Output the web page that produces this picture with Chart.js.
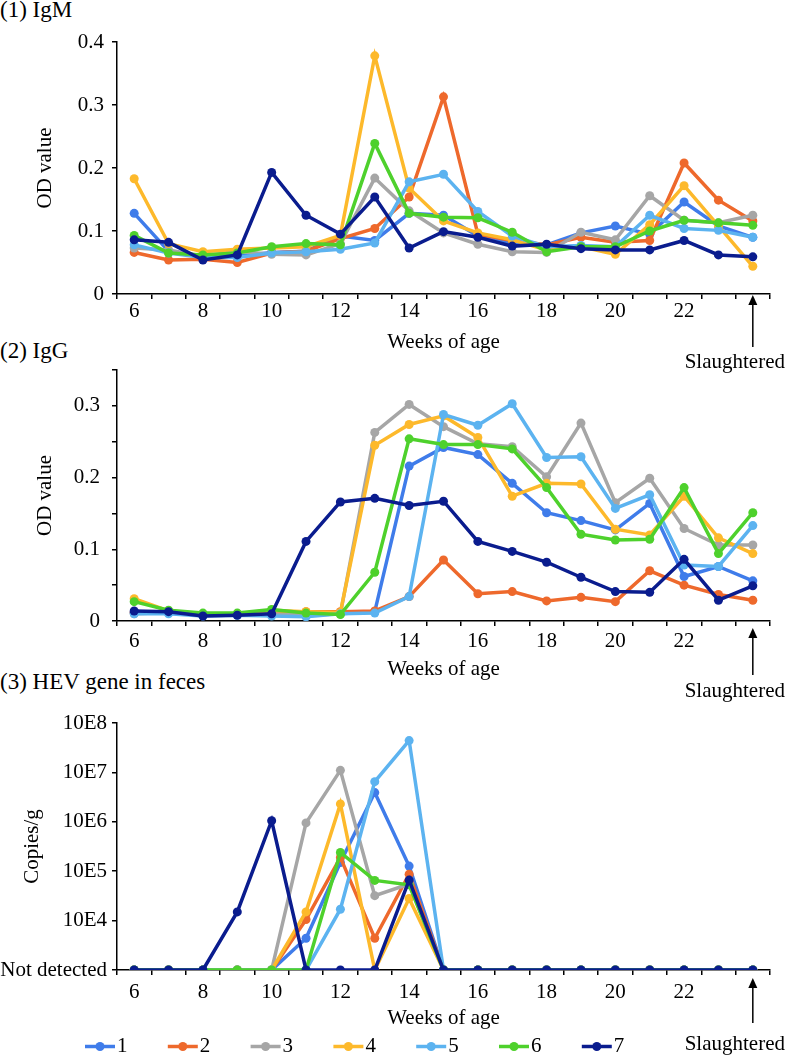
<!DOCTYPE html>
<html>
<head>
<meta charset="utf-8">
<script src="https://cdn.jsdelivr.net/npm/chart.js@4.4.0/dist/chart.umd.min.js"></script>
<style>
html, body { margin: 0; padding: 0; background: #fff; }
#wrap { position: relative; width: 787px; height: 1056px; overflow: hidden; font-family: 'Liberation Serif', 'Times New Roman', serif; }
.ptitle { position: absolute; left: 0; font-size: 23px; line-height: 26px; color: #000; white-space: nowrap; }
canvas { position: absolute; left: 0; }
</style>
</head>
<body>
<div id="wrap">
  <div class="ptitle" style="top:-3px">(1) IgM</div>
  <div class="ptitle" style="top:338px">(2) IgG</div>
  <div class="ptitle" style="top:669px">(3) HEV gene in feces</div>
  <canvas id="c1" width="787" height="385" style="top:0px"></canvas>
  <canvas id="c2" width="787" height="370" style="top:340px"></canvas>
  <canvas id="c3" width="787" height="366" style="top:690px"></canvas>
</div>
<script>
// ---------- data ----------
const weeks = [6, 7, 8, 9, 10, 11, 12, 13, 14, 15, 16, 17, 18, 19, 20, 21, 22, 23, 24];
const weekTickLabels = ['6', '', '8', '', '10', '', '12', '', '14', '', '16', '', '18', '', '20', '', '22', '', ''];
const seriesNames = ['1', '2', '3', '4', '5', '6', '7'];
const seriesColors = ['#3F7CEA', '#EE692C', '#A6A6A6', '#FDB92B', '#5CB3F0', '#4ED12C', '#0A1C8E'];

// (1) IgM OD values
const igm1 = [0.128, 0.068, 0.060, 0.060, 0.066, 0.068, 0.092, 0.085, 0.128, 0.125, 0.092, 0.080, 0.078, 0.097, 0.108, 0.095, 0.146, 0.108, 0.090];
const igm2 = [0.066, 0.054, 0.055, 0.050, 0.065, 0.068, 0.088, 0.104, 0.154, 0.313, 0.095, 0.085, 0.078, 0.090, 0.082, 0.085, 0.208, 0.149, 0.116];
const igm3 = [0.073, 0.070, 0.060, 0.068, 0.063, 0.062, 0.080, 0.184, 0.132, 0.097, 0.079, 0.067, 0.066, 0.098, 0.086, 0.156, 0.117, 0.113, 0.125];
const igm4 = [0.183, 0.080, 0.067, 0.071, 0.073, 0.075, 0.093, 0.378, 0.168, 0.116, 0.097, 0.086, 0.070, 0.075, 0.063, 0.110, 0.172, 0.108, 0.044];
const igm5 = [0.078, 0.065, 0.058, 0.058, 0.065, 0.067, 0.071, 0.081, 0.178, 0.190, 0.131, 0.092, 0.075, 0.077, 0.075, 0.125, 0.104, 0.101, 0.090];
const igm6 = [0.093, 0.065, 0.062, 0.065, 0.075, 0.080, 0.078, 0.239, 0.128, 0.122, 0.121, 0.098, 0.067, 0.075, 0.075, 0.100, 0.117, 0.113, 0.109];
const igm7 = [0.086, 0.082, 0.054, 0.062, 0.193, 0.125, 0.095, 0.154, 0.073, 0.099, 0.090, 0.076, 0.079, 0.072, 0.070, 0.070, 0.085, 0.062, 0.059];

// (2) IgG OD values
const igg1 = [0.012, 0.012, 0.008, 0.009, 0.010, 0.010, 0.010, 0.013, 0.216, 0.242, 0.232, 0.192, 0.151, 0.140, 0.127, 0.164, 0.062, 0.076, 0.056];
const igg2 = [0.012, 0.012, 0.009, 0.010, 0.012, 0.013, 0.013, 0.014, 0.034, 0.085, 0.038, 0.041, 0.028, 0.033, 0.027, 0.070, 0.050, 0.037, 0.029];
const igg3 = [0.010, 0.012, 0.008, 0.010, 0.010, 0.008, 0.010, 0.263, 0.302, 0.271, 0.247, 0.243, 0.201, 0.276, 0.165, 0.199, 0.129, 0.106, 0.106];
const igg4 = [0.031, 0.014, 0.010, 0.010, 0.015, 0.013, 0.012, 0.245, 0.274, 0.286, 0.256, 0.174, 0.192, 0.191, 0.128, 0.120, 0.174, 0.116, 0.094];
const igg5 = [0.010, 0.010, 0.007, 0.008, 0.007, 0.006, 0.010, 0.011, 0.034, 0.288, 0.273, 0.303, 0.228, 0.229, 0.157, 0.176, 0.078, 0.076, 0.133];
const igg6 = [0.027, 0.015, 0.011, 0.011, 0.016, 0.011, 0.009, 0.068, 0.254, 0.246, 0.246, 0.240, 0.186, 0.121, 0.113, 0.114, 0.186, 0.094, 0.151];
const igg7 = [0.014, 0.013, 0.007, 0.008, 0.010, 0.111, 0.166, 0.171, 0.161, 0.167, 0.111, 0.097, 0.082, 0.061, 0.041, 0.040, 0.086, 0.029, 0.049];

// (3) HEV gene copies/g (1000 = "Not detected")
const hev1 = [1000, 1000, 1000, 1000, 1000, 4400, 150000, 3900000, 127000, 1000, 1000, 1000, 1000, 1000, 1000, 1000, 1000, 1000, 1000];
const hev2 = [1000, 1000, 1000, 1000, 1000, 10500, 190000, 4400, 87000, 1000, 1000, 1000, 1000, 1000, 1000, 1000, 1000, 1000, 1000];
const hev3 = [1000, 1000, 1000, 1000, 1000, 950000, 11000000, 32000, 55000, 1000, 1000, 1000, 1000, 1000, 1000, 1000, 1000, 1000, 1000];
const hev4 = [1000, 1000, 1000, 1000, 1000, 15000, 2300000, 1000, 28000, 1000, 1000, 1000, 1000, 1000, 1000, 1000, 1000, 1000, 1000];
const hev5 = [1000, 1000, 1000, 1000, 1000, 1000, 17000, 6500000, 44000000, 1000, 1000, 1000, 1000, 1000, 1000, 1000, 1000, 1000, 1000];
const hev6 = [1000, 1000, 1000, 1000, 1000, 1000, 240000, 65000, 53000, 1000, 1000, 1000, 1000, 1000, 1000, 1000, 1000, 1000, 1000];
const hev7 = [1000, 1000, 1000, 15000, 1050000, 1000, 1000, 1000, 66000, 1000, 1000, 1000, 1000, 1000, 1000, 1000, 1000, 1000, 1000];

// y-axis ticks
const igmYTicks = [0, 0.1, 0.2, 0.3, 0.4];
const igmYTickLabels = ['0', '0.1', '0.2', '0.3', '0.4'];
const iggYTicks = [0, 0.05, 0.1, 0.15, 0.2, 0.25, 0.3, 0.35];
const iggYTickLabels = ['0', '', '0.1', '', '0.2', '', '0.3', ''];
const hevYTicks = [1e3, 1e4, 1e5, 1e6, 1e7, 1e8];
const hevYTickLabels = ['Not detected', '10E4', '10E5', '10E6', '10E7', '10E8'];

// ---------- rendering ----------
const FONT = "'Liberation Serif', 'Times New Roman', serif";
Chart.defaults.font.family = FONT;
Chart.defaults.color = '#000';

const slaughterPlugin = {
  id: 'slaughter',
  afterDraw(chart, args, opts) {
    const { ctx, chartArea, scales } = chart;
    const x = scales.x.getPixelForValue(weeks.length - 1);
    const tip = chartArea.bottom + opts.tipDy;
    ctx.save();
    ctx.strokeStyle = '#000';
    ctx.fillStyle = '#000';
    ctx.lineWidth = 1.5;
    ctx.beginPath();
    ctx.moveTo(x, tip + 6);
    ctx.lineTo(x, tip + opts.len);
    ctx.stroke();
    ctx.beginPath();
    ctx.moveTo(x, tip);
    ctx.lineTo(x - 4.5, tip + 10);
    ctx.lineTo(x + 4.5, tip + 10);
    ctx.closePath();
    ctx.fill();
    ctx.font = '21px ' + FONT;
    ctx.textAlign = 'center';
    ctx.textBaseline = 'middle';
    ctx.fillText('Slaughtered', x - 18, chartArea.bottom + opts.textDy);
    ctx.restore();
  }
};

const lineLegendPlugin = {
  id: 'lineLegend',
  afterDraw(chart, args, opts) {
    if (!opts || !opts.show) return;
    const { ctx, chartArea } = chart;
    const y = chartArea.bottom + opts.dy;
    ctx.save();
    chart.data.datasets.forEach((ds, i) => {
      const x0 = opts.x0 + i * opts.step;
      ctx.strokeStyle = ds.borderColor;
      ctx.fillStyle = ds.borderColor;
      ctx.lineWidth = 3.5;
      ctx.beginPath();
      ctx.moveTo(x0, y);
      ctx.lineTo(x0 + 30, y);
      ctx.stroke();
      ctx.beginPath();
      ctx.arc(x0 + 15, y, 4.5, 0, Math.PI * 2);
      ctx.fill();
      ctx.fillStyle = '#000';
      ctx.font = '21px ' + FONT;
      ctx.textAlign = 'left';
      ctx.textBaseline = 'middle';
      ctx.fillText(ds.label, x0 + 32, y);
    });
    ctx.restore();
  }
};

function makeDatasets(series) {
  return series.map((d, i) => ({
    label: seriesNames[i],
    data: d,
    borderColor: seriesColors[i],
    backgroundColor: seriesColors[i],
    pointBackgroundColor: seriesColors[i],
    pointBorderWidth: 0,
    pointRadius: 4.5,
    pointHoverRadius: 4.5,
    borderWidth: 3.5,
    tension: 0,
    order: series.length - 1 - i
  }));
}

function makeChart(id, series, yCfg, layoutPad, cfg) {
  const axisTickFont = { family: FONT, size: 21 };
  const yScale = Object.assign({
    afterBuildTicks: (s) => { s.ticks = cfg.yTicks.map(v => ({ value: v })); },
    ticks: {
      color: '#000', font: axisTickFont, padding: cfg.yTickPad, autoSkip: false,
      callback: (v, i) => cfg.yTickLabels[i]
    },
    grid: { drawOnChartArea: false, drawTicks: true, tickLength: 5, color: '#000', lineWidth: 1.5 },
    border: { display: true, color: '#000', width: 1.5 },
    title: { display: true, text: cfg.yTitle, color: '#000', font: { family: FONT, size: 21 }, padding: { top: cfg.yTitlePad, bottom: 0 } },
    afterFit: (s) => { s.width = 117; }
  }, yCfg);
  return new Chart(document.getElementById(id), {
    type: 'line',
    data: { labels: weeks, datasets: makeDatasets(series) },
    options: {
      responsive: false,
      animation: false,
      layout: { padding: layoutPad },
      plugins: {
        legend: { display: false },
        tooltip: { enabled: false },
        slaughter: cfg.slaughter,
        lineLegend: cfg.legend || { show: false }
      },
      scales: {
        x: {
          type: 'category',
          offset: true,
          grid: { offset: true, drawOnChartArea: false, drawTicks: true, tickLength: 5, color: '#000', lineWidth: 1.5 },
          border: { display: true, color: '#000', width: 1.5 },
          ticks: {
            autoSkip: false, maxRotation: 0, minRotation: 0, color: '#000', font: axisTickFont, padding: cfg.xTickPad,
            callback: (v, i) => weekTickLabels[i]
          },
          title: { display: true, text: 'Weeks of age', color: '#000', font: { family: FONT, size: 21 }, padding: { top: 0, bottom: 0 } },
          afterFit: (s) => { s.height = 61; }
        },
        y: yScale
      }
    },
    plugins: [slaughterPlugin, lineLegendPlugin]
  });
}

makeChart('c1', [igm1, igm2, igm3, igm4, igm5, igm6, igm7],
  { type: 'linear', min: 0, max: 0.4 },
  { top: 42, left: 0, right: 17, bottom: 30 },
  { yTicks: igmYTicks, yTickLabels: igmYTickLabels, yTickPad: 8, yTitle: 'OD value', yTitlePad: 33, xTickPad: 0,
    slaughter: { tipDy: 1, len: 52, textDy: 68 } });

makeChart('c2', [igg1, igg2, igg3, igg4, igg5, igg6, igg7],
  { type: 'linear', min: 0, max: 0.35 },
  { top: 30, left: 0, right: 17, bottom: 28 },
  { yTicks: iggYTicks, yTickLabels: iggYTickLabels, yTickPad: 12, yTitle: 'OD value', yTitlePad: 33, xTickPad: 3,
    slaughter: { tipDy: 7, len: 47, textDy: 70 } });

makeChart('c3', [hev1, hev2, hev3, hev4, hev5, hev6, hev7],
  { type: 'logarithmic', min: 1e3, max: 1e8 },
  { top: 33, left: 0, right: 17, bottom: 25 },
  { yTicks: hevYTicks, yTickLabels: hevYTickLabels, yTickPad: 5, yTitle: 'Copies/g', yTitlePad: 20, xTickPad: 5,
    slaughter: { tipDy: 8, len: 45, textDy: 74 },
    legend: { show: true, x0: 85, step: 82.8, dy: 76.5 } });
</script>
</body>
</html>
